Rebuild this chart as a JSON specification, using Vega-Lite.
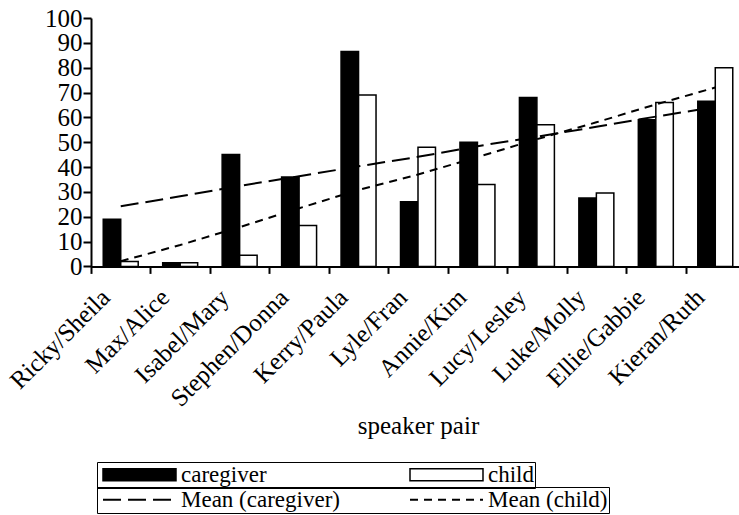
{
  "$schema": "https://vega.github.io/schema/vega-lite/v6.json",
  "width": 648,
  "height": 248.4,
  "autosize": {"type": "none"},
  "padding": {"left": 91, "top": 18, "right": 0, "bottom": 248.6},
  "config": {
    "font": "Liberation Serif",
    "view": {"stroke": null},
    "axis": {"grid": false, "labelFont": "Liberation Serif", "titleFont": "Liberation Serif", "labelColor": "black", "domainColor": "black", "tickColor": "black", "titleColor": "black", "titleFontWeight": "normal"},
    "legend": {
      "labelFont": "Liberation Serif",
      "labelFontSize": 23,
      "labelColor": "black",
      "labelLimit": 400,
      "title": null,
      "orient": "none",
      "direction": "horizontal",
      "columns": 2,
      "gridAlign": "all",
      "rowPadding": 0,
      "padding": 1,
      "strokeColor": "black",
      "symbolSize": 148,
      "symbolOffset": 30,
      "labelOffset": 30,
      "symbolStrokeColor": "black"
    }
  },
  "data": {
    "values": [
      {"pair": "Ricky/Sheila", "series": "caregiver", "value": 19},
      {"pair": "Ricky/Sheila", "series": "child", "value": 2},
      {"pair": "Max/Alice", "series": "caregiver", "value": 1.5},
      {"pair": "Max/Alice", "series": "child", "value": 1.5},
      {"pair": "Isabel/Mary", "series": "caregiver", "value": 45},
      {"pair": "Isabel/Mary", "series": "child", "value": 4.5},
      {"pair": "Stephen/Donna", "series": "caregiver", "value": 36},
      {"pair": "Stephen/Donna", "series": "child", "value": 16.5},
      {"pair": "Kerry/Paula", "series": "caregiver", "value": 86.5},
      {"pair": "Kerry/Paula", "series": "child", "value": 69},
      {"pair": "Lyle/Fran", "series": "caregiver", "value": 26},
      {"pair": "Lyle/Fran", "series": "child", "value": 48},
      {"pair": "Annie/Kim", "series": "caregiver", "value": 50},
      {"pair": "Annie/Kim", "series": "child", "value": 33},
      {"pair": "Lucy/Lesley", "series": "caregiver", "value": 68},
      {"pair": "Lucy/Lesley", "series": "child", "value": 57},
      {"pair": "Luke/Molly", "series": "caregiver", "value": 27.5},
      {"pair": "Luke/Molly", "series": "child", "value": 29.5},
      {"pair": "Ellie/Gabbie", "series": "caregiver", "value": 59},
      {"pair": "Ellie/Gabbie", "series": "child", "value": 66},
      {"pair": "Kieran/Ruth", "series": "caregiver", "value": 66.5},
      {"pair": "Kieran/Ruth", "series": "child", "value": 80},
      {"pair": "Ricky/Sheila", "series": "Mean (caregiver)", "value": 24.2},
      {"pair": "Max/Alice", "series": "Mean (caregiver)", "value": 28.2},
      {"pair": "Isabel/Mary", "series": "Mean (caregiver)", "value": 32.4},
      {"pair": "Stephen/Donna", "series": "Mean (caregiver)", "value": 36.3},
      {"pair": "Kerry/Paula", "series": "Mean (caregiver)", "value": 40.3},
      {"pair": "Lyle/Fran", "series": "Mean (caregiver)", "value": 44.1},
      {"pair": "Annie/Kim", "series": "Mean (caregiver)", "value": 48.4},
      {"pair": "Lucy/Lesley", "series": "Mean (caregiver)", "value": 52.2},
      {"pair": "Luke/Molly", "series": "Mean (caregiver)", "value": 56.2},
      {"pair": "Ellie/Gabbie", "series": "Mean (caregiver)", "value": 60.3},
      {"pair": "Kieran/Ruth", "series": "Mean (caregiver)", "value": 64.2},
      {"pair": "Ricky/Sheila", "series": "Mean (child)", "value": 2.1},
      {"pair": "Max/Alice", "series": "Mean (child)", "value": 8.6},
      {"pair": "Isabel/Mary", "series": "Mean (child)", "value": 15.8},
      {"pair": "Stephen/Donna", "series": "Mean (child)", "value": 23.4},
      {"pair": "Kerry/Paula", "series": "Mean (child)", "value": 30.8},
      {"pair": "Lyle/Fran", "series": "Mean (child)", "value": 37.0},
      {"pair": "Annie/Kim", "series": "Mean (child)", "value": 44.0},
      {"pair": "Lucy/Lesley", "series": "Mean (child)", "value": 51.2},
      {"pair": "Luke/Molly", "series": "Mean (child)", "value": 58.0},
      {"pair": "Ellie/Gabbie", "series": "Mean (child)", "value": 65.2},
      {"pair": "Kieran/Ruth", "series": "Mean (child)", "value": 72.0}
    ]
  },
  "encoding": {
    "x": {
      "field": "pair",
      "type": "nominal",
      "sort": ["Ricky/Sheila", "Max/Alice", "Isabel/Mary", "Stephen/Donna", "Kerry/Paula", "Lyle/Fran", "Annie/Kim", "Lucy/Lesley", "Luke/Molly", "Ellie/Gabbie", "Kieran/Ruth"],
      "scale": {"type": "band", "range": [0, 654], "paddingInner": 0, "paddingOuter": 0},
      "axis": {
        "title": "speaker pair",
        "titleFontSize": 25,
        "titleY": 147,
        "titleBaseline": "top",
        "labelAngle": -45,
        "labelAlign": "right",
        "labelBaseline": "top",
        "labelFontSize": 25,
        "labelPadding": 11,
        "labelOffset": -24,
        "labelOverlap": false,
        "labelLimit": 400,
        "tickBand": "extent",
        "tickSize": 7,
        "tickWidth": 2,
        "domainWidth": 2
      }
    },
    "y": {
      "field": "value",
      "type": "quantitative",
      "scale": {"domain": [0, 100], "nice": false},
      "axis": {
        "title": null,
        "values": [0, 10, 20, 30, 40, 50, 60, 70, 80, 90, 100],
        "labelOverlap": false,
        "labelFontSize": 25,
        "labelPadding": 1,
        "tickSize": 8,
        "tickWidth": 2,
        "domainWidth": 2
      }
    }
  },
  "layer": [
    {
      "transform": [{"filter": "datum.series == 'caregiver' || datum.series == 'child'"}],
      "mark": {"type": "bar", "stroke": "black", "strokeWidth": 1.5},
      "encoding": {
        "xOffset": {"field": "series", "type": "nominal", "scale": {"domain": ["caregiver", "child"], "paddingOuter": 0.7, "paddingInner": 0}},
        "fill": {
          "field": "series",
          "type": "nominal",
          "scale": {"domain": ["caregiver", "child"], "range": ["black", "white"]},
          "legend": {
            "legendX": 6,
            "legendY": 444,
            "columnPadding": 138,
            "symbolType": "M-6,-1H6V1H-6Z",
            "symbolStrokeWidth": 1.5
          }
        }
      }
    },
    {
      "transform": [{"filter": "datum.series == 'Mean (caregiver)' || datum.series == 'Mean (child)'"}],
      "mark": {"type": "line", "color": "black", "strokeWidth": 2},
      "encoding": {
        "strokeDash": {
          "field": "series",
          "type": "nominal",
          "scale": {"domain": ["Mean (caregiver)", "Mean (child)"], "range": [[18, 7], [8, 6]]},
          "legend": {
            "legendX": 6,
            "legendY": 469,
            "columnPadding": 65,
            "symbolType": "M-6,0H6",
            "symbolStrokeWidth": 2,
            "symbolFillColor": "transparent"
          }
        }
      }
    }
  ]
}
